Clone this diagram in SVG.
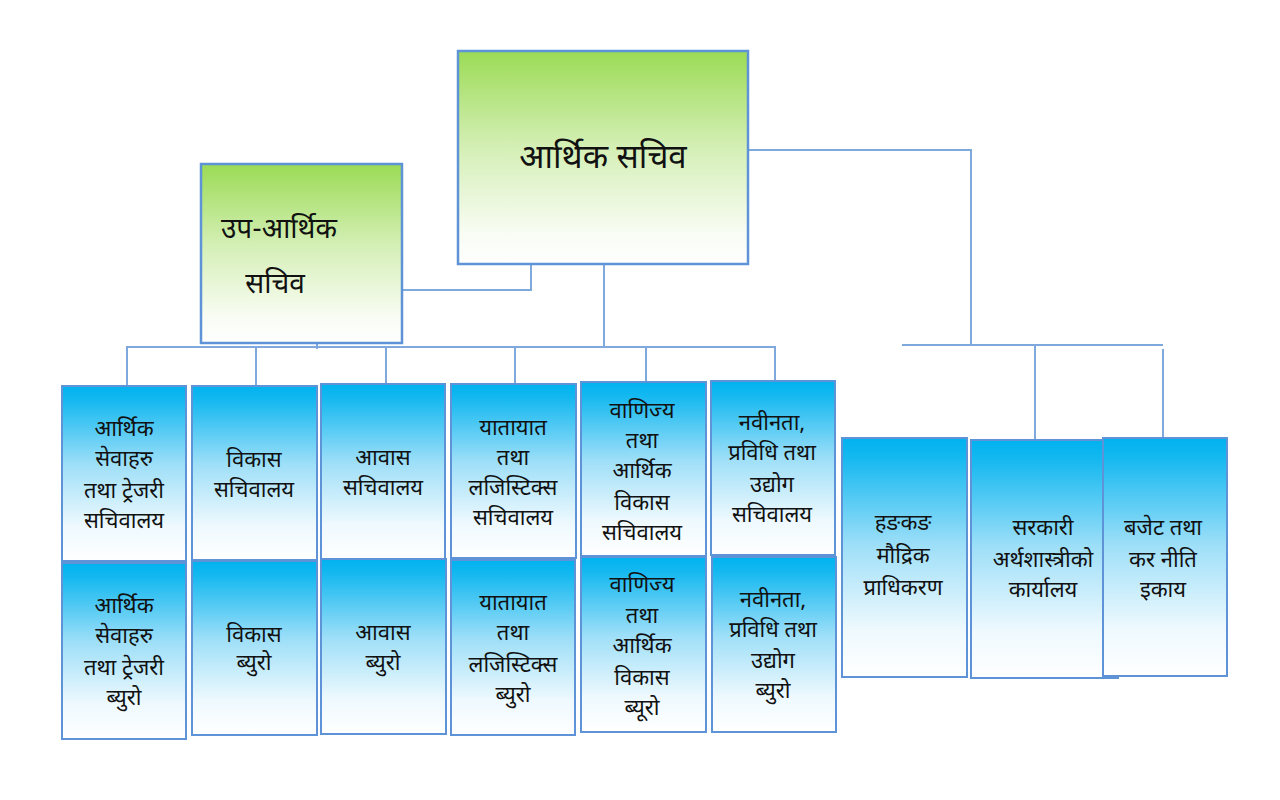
<svg xmlns="http://www.w3.org/2000/svg" width="1280" height="800" viewBox="0 0 1280 800">
<defs>
<linearGradient id="gGreen" x1="0" y1="0" x2="0" y2="1">
<stop offset="0" stop-color="#9BDB55"/>
<stop offset="0.45" stop-color="#D4EFB5"/>
<stop offset="0.85" stop-color="#F8FCF3"/>
<stop offset="1" stop-color="#FFFFFF"/>
</linearGradient>
<linearGradient id="gBlue" x1="0" y1="0" x2="0" y2="1">
<stop offset="0" stop-color="#00B2EF"/>
<stop offset="0.08" stop-color="#14B8F0"/>
<stop offset="0.45" stop-color="#9EDFF8"/>
<stop offset="0.8" stop-color="#EEF9FE"/>
<stop offset="1" stop-color="#FFFFFF"/>
</linearGradient>
</defs>
<style>
.g{fill:url(#gGreen);stroke:#5E93D8;stroke-width:2.5}
.b{fill:url(#gBlue);stroke:#5E93D8;stroke-width:2}
.c{fill:none;stroke:#7FA8DD;stroke-width:2}
text{font-family:"Noto Sans Devanagari","Noto Sans","DejaVu Sans",sans-serif;fill:#111;text-anchor:middle}
.t{font-size:22px}
.big{font-size:33px}
.mid{font-size:28px}
</style>
<rect width="1280" height="800" fill="#FFFFFF"/>

<g id="connectors">
<path class="c" d="M531,264 V290 H402"/>
<path class="c" d="M604,264 V347"/>
<path class="c" d="M317,312 V349"/>
<path class="c" d="M127,386 V347 H775 V381"/>
<path class="c" d="M256,347 V386"/>
<path class="c" d="M386,347 V384"/>
<path class="c" d="M515,347 V384"/>
<path class="c" d="M646,347 V382"/>
<path class="c" d="M748,150 H971 V345"/>
<path class="c" d="M902,345 H1163"/>
<path class="c" d="M1035,345 V440"/>
<path class="c" d="M1163,349 V443"/>
</g>

<g id="n-sub">
<rect class="g" x="201" y="164" width="201" height="179"/>
<text class="mid" x="279" y="238">उप-आर्थिक</text>
<text class="mid" x="275" y="293">सचिव</text>
</g>

<g id="n-main">
<rect class="g" x="458" y="51" width="290" height="213"/>
<text class="big" x="603" y="168">आर्थिक सचिव</text>
</g>

<g id="n1b">
<rect class="b" x="62" y="563" width="124" height="176"/>
<text class="t"><tspan x="124" y="613">आर्थिक</tspan><tspan x="124" y="643">सेवाहरु</tspan><tspan x="124" y="675">तथा ट्रेजरी</tspan><tspan x="124" y="705">ब्युरो</tspan></text>
</g>
<g id="n1a">
<rect class="b" x="62" y="386" width="124" height="175"/>
<text class="t"><tspan x="124" y="436">आर्थिक</tspan><tspan x="124" y="466">सेवाहरु</tspan><tspan x="124" y="498">तथा ट्रेजरी</tspan><tspan x="124" y="528">सचिवालय</tspan></text>
</g>

<g id="n2b">
<rect class="b" x="192" y="561" width="125" height="174"/>
<text class="t"><tspan x="254" y="642">विकास</tspan><tspan x="254" y="670">ब्युरो</tspan></text>
</g>
<g id="n2a">
<rect class="b" x="192" y="386" width="125" height="174"/>
<text class="t"><tspan x="254" y="467">विकास</tspan><tspan x="254" y="497">सचिवालय</tspan></text>
</g>

<g id="n3b">
<rect class="b" x="321" y="559" width="125" height="175"/>
<text class="t"><tspan x="383" y="640">आवास</tspan><tspan x="383" y="670">ब्युरो</tspan></text>
</g>
<g id="n3a">
<rect class="b" x="321" y="384" width="124" height="175"/>
<text class="t"><tspan x="383" y="465">आवास</tspan><tspan x="383" y="495">सचिवालय</tspan></text>
</g>

<g id="n4b">
<rect class="b" x="451" y="560" width="124" height="175"/>
<text class="t"><tspan x="513" y="610">यातायात</tspan><tspan x="513" y="640">तथा</tspan><tspan x="513" y="672">लजिस्टिक्स</tspan><tspan x="513" y="702">ब्युरो</tspan></text>
</g>
<g id="n4a">
<rect class="b" x="451" y="384" width="125" height="174"/>
<text class="t"><tspan x="513" y="435">यातायात</tspan><tspan x="513" y="465">तथा</tspan><tspan x="513" y="495">लजिस्टिक्स</tspan><tspan x="513" y="525">सचिवालय</tspan></text>
</g>

<g id="n5b">
<rect class="b" x="581" y="557" width="125" height="175"/>
<text class="t"><tspan x="642" y="592">वाणिज्य</tspan><tspan x="642" y="623">तथा</tspan><tspan x="642" y="653">आर्थिक</tspan><tspan x="642" y="685">विकास</tspan><tspan x="642" y="715">ब्यूरो</tspan></text>
</g>
<g id="n5a">
<rect class="b" x="581" y="382" width="125" height="174"/>
<text class="t"><tspan x="642" y="418">वाणिज्य</tspan><tspan x="642" y="448">तथा</tspan><tspan x="642" y="478">आर्थिक</tspan><tspan x="642" y="510">विकास</tspan><tspan x="642" y="540">सचिवालय</tspan></text>
</g>

<g id="n6b">
<rect class="b" x="712" y="557" width="124" height="175"/>
<text class="t"><tspan x="773" y="607">नवीनता,</tspan><tspan x="773" y="637">प्रविधि तथा</tspan><tspan x="773" y="668">उद्योग</tspan><tspan x="773" y="698">ब्युरो</tspan></text>
</g>
<g id="n6a">
<rect class="b" x="711" y="381" width="124" height="174"/>
<text class="t"><tspan x="772" y="430">नवीनता,</tspan><tspan x="772" y="460">प्रविधि तथा</tspan><tspan x="772" y="492">उद्योग</tspan><tspan x="772" y="522">सचिवालय</tspan></text>
</g>

<g id="n7">
<rect class="b" x="842" y="438" width="125" height="239"/>
<text class="t"><tspan x="903" y="530">हङकङ</tspan><tspan x="903" y="563">मौद्रिक</tspan><tspan x="903" y="595">प्राधिकरण</tspan></text>
</g>
<g id="n8">
<rect class="b" x="971" y="440" width="147" height="238"/>
<text class="t"><tspan x="1043" y="535">सरकारी</tspan><tspan x="1043" y="567">अर्थशास्त्रीको</tspan><tspan x="1043" y="597">कार्यालय</tspan></text>
</g>
<g id="n9">
<rect class="b" x="1103" y="438" width="124" height="238"/>
<text class="t"><tspan x="1163" y="535">बजेट तथा</tspan><tspan x="1163" y="567">कर नीति</tspan><tspan x="1163" y="597">इकाय</tspan></text>
</g>
</svg>
